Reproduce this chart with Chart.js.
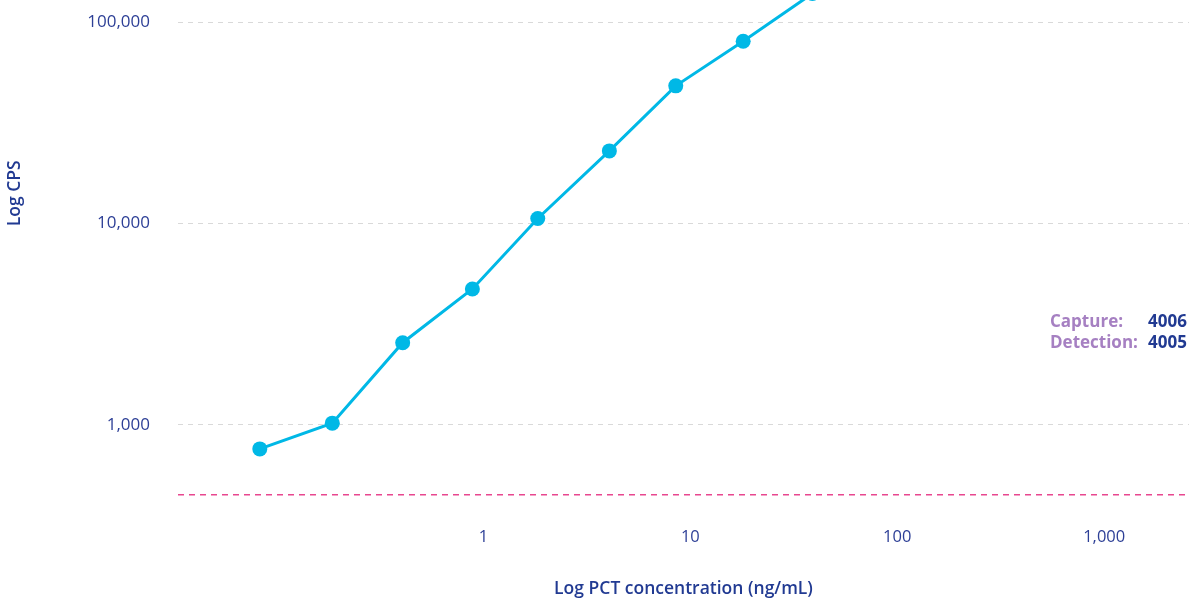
<!DOCTYPE html>
<html><head><meta charset="utf-8">
<script src="https://cdn.jsdelivr.net/npm/chart.js@4"></script>
<style>
html,body{margin:0;padding:0;overflow:hidden;background:#fff;width:1197px;height:603px;}
#wrap{position:absolute;left:0;top:-126px;width:1197px;height:729px;}
</style></head><body>
<div id="wrap"><canvas id="c"></canvas></div>
<script>
// Data
const concentrations = [0.083, 0.186, 0.407, 0.884, 1.83, 4.06, 8.5, 18.0, 38.9];
const cpsValues = [760, 1020, 2560, 4730, 10600, 22960, 48300, 80500, 139000];
const xTickValues = [1, 10, 100, 1000];
const yTickValues = [1000, 10000, 100000];
const cutoffCps = 450;
const xRange = [0.0334, 2570];
const yRange = [400, 500000];
const infoLabels = ['Capture:', 'Detection:'];
const infoValues = ['4006', '4005'];

const FONT = '"Open Sans", "Noto Sans", sans-serif';
const TICK_COLOR = '#2d3f96';
const TITLE_COLOR = '#213a92';
const OFFSET = 126;

const infoPlugin = {
  id: 'info',
  afterDraw(chart) {
    const ctx = chart.ctx;
    ctx.save();
    ctx.font = 'bold 17px ' + FONT;
    ctx.textBaseline = 'alphabetic';
    const ys = [326.7 + OFFSET, 348.3 + OFFSET];
    infoLabels.forEach((t, i) => {
      ctx.fillStyle = '#a680c2';
      ctx.textAlign = 'left';
      ctx.fillText(t, 1050, ys[i]);
      ctx.fillStyle = '#213a92';
      ctx.textAlign = 'right';
      ctx.fillText(infoValues[i], 1187, ys[i]);
    });
    ctx.restore();
  }
};

new Chart(document.getElementById('c'), {
  type: 'line',
  data: {
    datasets: [
      {
        data: concentrations.map((x, i) => ({x, y: cpsValues[i]})),
        borderColor: '#00b8e6',
        backgroundColor: '#00b8e6',
        borderWidth: 3,
        pointRadius: 7.5,
        pointBorderWidth: 0,
        pointBackgroundColor: '#00b8e6',
        tension: 0,
        clip: false
      },
      {
        data: [{x: xRange[0], y: cutoffCps}, {x: xRange[1], y: cutoffCps}],
        borderColor: '#e8478f',
        borderWidth: 1.5,
        borderDash: [6, 5],
        pointRadius: 0,
        tension: 0
      }
    ]
  },
  options: {
    responsive: true,
    maintainAspectRatio: false,
    animation: false,
    layout: {padding: {left: 0, right: 8, top: 0, bottom: 0}},
    plugins: {legend: {display: false}, tooltip: {enabled: false}},
    scales: {
      x: {
        type: 'logarithmic',
        min: xRange[0], max: xRange[1],
        afterBuildTicks: s => { s.ticks = xTickValues.map(v => ({value: v})); },
        afterFit: s => { s.height = 98; s.paddingLeft = 0; s.paddingRight = 0; },
        ticks: {
          callback: v => Number(v).toLocaleString('en-US'),
          font: {family: FONT, size: 16.5},
          color: TICK_COLOR,
          padding: 14,
          autoSkip: false,
          maxRotation: 0
        },
        grid: {display: false},
        border: {display: false},
        title: {
          display: true,
          text: 'Log PCT concentration (ng/mL)',
          font: {family: FONT, size: 17.5, weight: '600'},
          color: TITLE_COLOR,
          padding: {top: 0, bottom: 3}
        }
      },
      y: {
        type: 'logarithmic',
        min: yRange[0], max: yRange[1],
        afterBuildTicks: s => { s.ticks = yTickValues.map(v => ({value: v})); },
        afterFit: s => { s.width = 178; s.paddingTop = 0; s.paddingBottom = 0; },
        ticks: {
          callback: v => Number(v).toLocaleString('en-US'),
          font: {family: FONT, size: 17},
          color: TICK_COLOR,
          padding: 28
        },
        grid: {color: '#d9d9d9', lineWidth: 1, drawTicks: false},
        border: {display: false, dash: [5, 5]},
        title: {
          display: true,
          text: 'Log CPS',
          font: {family: FONT, size: 17.5, weight: '600'},
          color: TITLE_COLOR,
          padding: {top: 5, bottom: 0}
        }
      }
    }
  },
  plugins: [infoPlugin]
});
</script>
</body></html>
